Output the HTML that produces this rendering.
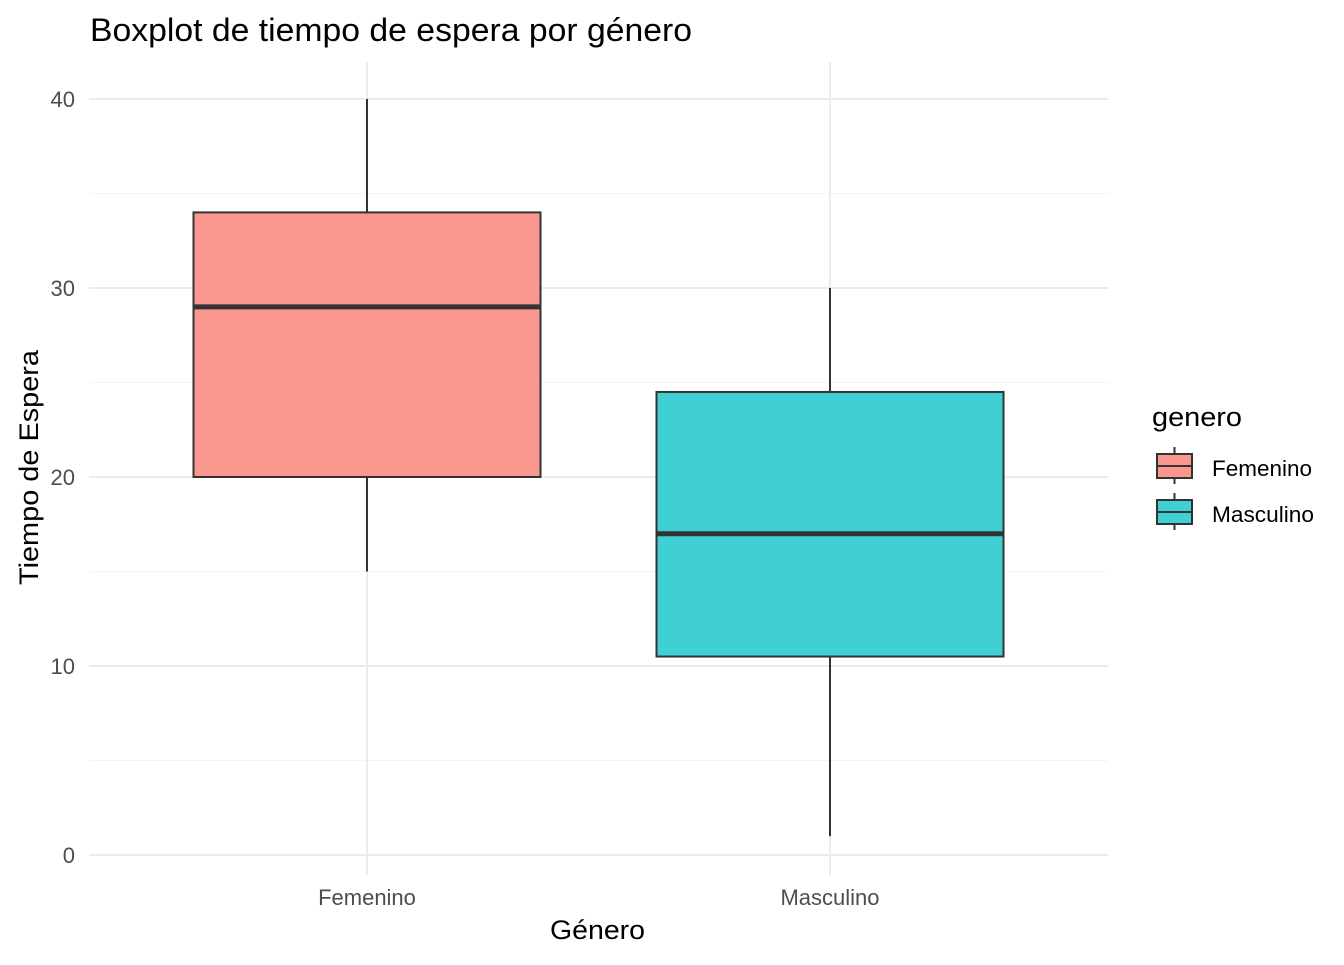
<!DOCTYPE html>
<html><head><meta charset="utf-8"><style>
body{margin:0;background:#fff;}
svg text{font-family:"Liberation Sans",Arial,sans-serif;}
</style></head><body>
<svg id="c" width="1344" height="960" xmlns="http://www.w3.org/2000/svg">
<rect width="1344" height="960" fill="#fff"/>
<text x="90" y="41" font-size="32" textLength="602" lengthAdjust="spacingAndGlyphs" fill="#000">Boxplot de tiempo de espera por género</text>
<g id="grid"></g>
<g id="boxes"></g>
<g id="axes"></g>
<text x="550" y="939" font-size="27" textLength="95" lengthAdjust="spacingAndGlyphs" fill="#000">Género</text>
<text transform="translate(38,585) rotate(-90)" font-size="27" textLength="235" lengthAdjust="spacingAndGlyphs" fill="#000">Tiempo de Espera</text>
<g>
<text x="1152" y="426" font-size="27" textLength="90" lengthAdjust="spacingAndGlyphs" fill="#000">genero</text>
<g>
<line x1="1174.5" y1="447" x2="1174.5" y2="484" stroke="#333" stroke-width="2"/>
<rect x="1157" y="454" width="35" height="24" fill="#FA978F" stroke="#333" stroke-width="2"/>
<line x1="1157" y1="466" x2="1192" y2="466" stroke="#333" stroke-width="2"/>
<text x="1212" y="476" font-size="22" textLength="100" lengthAdjust="spacingAndGlyphs" fill="#000">Femenino</text>
</g>
<g>
<line x1="1174.5" y1="493" x2="1174.5" y2="530" stroke="#333" stroke-width="2"/>
<rect x="1157" y="500" width="35" height="24" fill="#40CFD2" stroke="#333" stroke-width="2"/>
<line x1="1157" y1="512" x2="1192" y2="512" stroke="#333" stroke-width="2"/>
<text x="1212" y="522" font-size="22" textLength="102" lengthAdjust="spacingAndGlyphs" fill="#000">Masculino</text>
</g>
</g>
</svg>
<script>
const categories=["Femenino","Masculino"];
const whiskerLow=[15,1];
const q1=[20,10.5];
const median=[29,17];
const q3=[34,24.5];
const whiskerHigh=[40,30];
const yTicks=[0,10,20,30,40];
const fills=["#FA978F","#40CFD2"];
const NS="http://www.w3.org/2000/svg";
const px0=89,px1=1108,py0=62,py1=875;
const y=v=>855-v*18.9;
const xc=i=>367+i*463;
const bw=347;
function mk(tag,attrs,parent){const e=document.createElementNS(NS,tag);for(const k in attrs)e.setAttribute(k,attrs[k]);parent.appendChild(e);return e;}
const grid=document.getElementById('grid'),boxes=document.getElementById('boxes'),axes=document.getElementById('axes');
for(let i=0;i<yTicks.length;i++){
  const v=yTicks[i];
  const l=mk('line',{x1:px0,x2:px1,y1:y(v),y2:y(v),stroke:'#EBEBEB','stroke-width':2},grid);
  
  
  if(i<yTicks.length-1){const m=(v+yTicks[i+1])/2;
    const l2=mk('line',{x1:px0,x2:px1,y1:y(m),y2:y(m),stroke:'#F4F4F4','stroke-width':1},grid);
    
    }
  const t=mk('text',{x:75,y:y(v)+8,'font-size':22,fill:'#4D4D4D','text-anchor':'end'},axes);
  t.textContent=v;
  
  
}
categories.forEach((c,i)=>{
  const gl=mk('line',{x1:xc(i),x2:xc(i),y1:py0,y2:py1,stroke:'#EBEBEB','stroke-width':2},grid);
  
  
  const t=mk('text',{x:xc(i),y:905,'font-size':22,fill:'#4D4D4D','text-anchor':'middle'},axes);
  t.textContent=c;
  
  
  const g=mk('g',{},boxes);
  
  
  mk('line',{x1:xc(i),x2:xc(i),y1:y(whiskerHigh[i]),y2:y(q3[i]),stroke:'#333','stroke-width':2},g);
  mk('line',{x1:xc(i),x2:xc(i),y1:y(q1[i]),y2:y(whiskerLow[i]),stroke:'#333','stroke-width':2},g);
  mk('rect',{x:xc(i)-bw/2,y:y(q3[i]),width:bw,height:y(q1[i])-y(q3[i]),fill:fills[i],stroke:'#333','stroke-width':2},g);
  mk('line',{x1:xc(i)-bw/2,x2:xc(i)+bw/2,y1:y(median[i]),y2:y(median[i]),stroke:'#333','stroke-width':5},g);
});
</script>
</body></html>
